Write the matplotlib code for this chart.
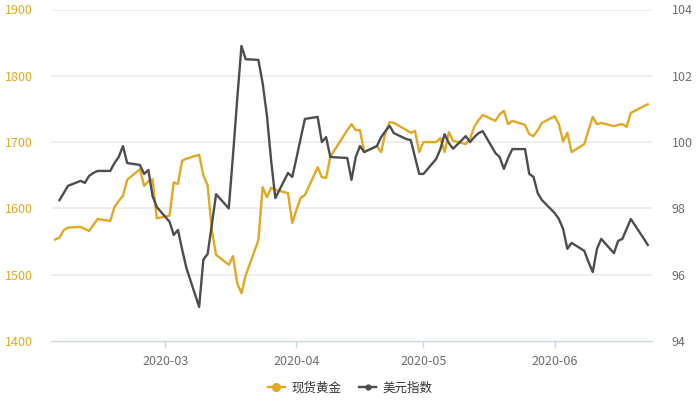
import matplotlib
matplotlib.use("Agg")
import matplotlib.pyplot as plt
import matplotlib.dates as mdates
from matplotlib.lines import Line2D
import pandas as pd

plt.rcParams['font.family'] = ['Noto Sans CJK SC', 'DejaVu Sans']

# ---- data ----
gold_dates = [
    "2020-02-04", "2020-02-05", "2020-02-06", "2020-02-07",
    "2020-02-10", "2020-02-11", "2020-02-12", "2020-02-13", "2020-02-14",
    "2020-02-17", "2020-02-18", "2020-02-19", "2020-02-20", "2020-02-21",
    "2020-02-24", "2020-02-25", "2020-02-26", "2020-02-27", "2020-02-28",
    "2020-03-02", "2020-03-03", "2020-03-04", "2020-03-05", "2020-03-06",
    "2020-03-09", "2020-03-10", "2020-03-11", "2020-03-12", "2020-03-13",
    "2020-03-16", "2020-03-17", "2020-03-18", "2020-03-19", "2020-03-20",
    "2020-03-23", "2020-03-24", "2020-03-25", "2020-03-26", "2020-03-27",
    "2020-03-30", "2020-03-31", "2020-04-01", "2020-04-02", "2020-04-03",
    "2020-04-06", "2020-04-07", "2020-04-08", "2020-04-09",
    "2020-04-13", "2020-04-14", "2020-04-15", "2020-04-16", "2020-04-17",
    "2020-04-20", "2020-04-21", "2020-04-22", "2020-04-23", "2020-04-24",
    "2020-04-27", "2020-04-28", "2020-04-29", "2020-04-30", "2020-05-01",
    "2020-05-04", "2020-05-05", "2020-05-06", "2020-05-07", "2020-05-08",
    "2020-05-11", "2020-05-12", "2020-05-13", "2020-05-14", "2020-05-15",
    "2020-05-18", "2020-05-19", "2020-05-20", "2020-05-21", "2020-05-22",
    "2020-05-25", "2020-05-26", "2020-05-27", "2020-05-28", "2020-05-29",
    "2020-06-01", "2020-06-02", "2020-06-03", "2020-06-04", "2020-06-05",
    "2020-06-08", "2020-06-09", "2020-06-10", "2020-06-11", "2020-06-12",
    "2020-06-15", "2020-06-16", "2020-06-17", "2020-06-18", "2020-06-19",
    "2020-06-22", "2020-06-23",
]
gold_values = [
    1553, 1556, 1567, 1571,
    1572, 1569, 1566, 1575, 1584,
    1581, 1602, 1611, 1619, 1643,
    1659, 1634, 1641, 1644, 1585,
    1589, 1639, 1637, 1672, 1675,
    1681, 1650, 1635, 1567, 1530,
    1515, 1528, 1487, 1472, 1499,
    1552, 1632, 1617, 1631, 1628,
    1623, 1578, 1598, 1616, 1620,
    1662, 1647, 1646, 1678,
    1718, 1727, 1718, 1718, 1685,
    1694, 1685, 1714, 1730, 1729,
    1718, 1714, 1717, 1685, 1700,
    1700, 1706, 1685, 1715, 1702,
    1697, 1705, 1723, 1733, 1741,
    1732, 1742, 1747, 1727, 1732,
    1726, 1712, 1709, 1718, 1729,
    1739, 1727, 1701, 1714, 1685,
    1697, 1718, 1738, 1727, 1729,
    1724, 1726, 1727, 1723, 1744,
    1754, 1757,
]

dxy_dates = [
    "2020-02-05", "2020-02-06", "2020-02-07",
    "2020-02-10", "2020-02-11", "2020-02-12", "2020-02-13", "2020-02-14",
    "2020-02-17", "2020-02-18", "2020-02-19", "2020-02-20", "2020-02-21",
    "2020-02-24", "2020-02-25", "2020-02-26", "2020-02-27", "2020-02-28",
    "2020-03-02", "2020-03-03", "2020-03-04", "2020-03-05", "2020-03-06",
    "2020-03-09", "2020-03-10", "2020-03-11", "2020-03-12", "2020-03-13",
    "2020-03-16", "2020-03-17", "2020-03-18", "2020-03-19", "2020-03-20",
    "2020-03-23", "2020-03-24", "2020-03-25", "2020-03-26", "2020-03-27",
    "2020-03-30", "2020-03-31", "2020-04-01", "2020-04-02", "2020-04-03",
    "2020-04-06", "2020-04-07", "2020-04-08", "2020-04-09",
    "2020-04-13", "2020-04-14", "2020-04-15", "2020-04-16", "2020-04-17",
    "2020-04-20", "2020-04-21", "2020-04-22", "2020-04-23", "2020-04-24",
    "2020-04-27", "2020-04-28", "2020-04-29", "2020-04-30", "2020-05-01",
    "2020-05-04", "2020-05-05", "2020-05-06", "2020-05-07", "2020-05-08",
    "2020-05-11", "2020-05-12", "2020-05-13", "2020-05-14", "2020-05-15",
    "2020-05-18", "2020-05-19", "2020-05-20", "2020-05-21", "2020-05-22",
    "2020-05-25", "2020-05-26", "2020-05-27", "2020-05-28", "2020-05-29",
    "2020-06-01", "2020-06-02", "2020-06-03", "2020-06-04", "2020-06-05",
    "2020-06-08", "2020-06-09", "2020-06-10", "2020-06-11", "2020-06-12",
    "2020-06-15", "2020-06-16", "2020-06-17", "2020-06-18", "2020-06-19",
    "2020-06-22", "2020-06-23",
]
dxy_values = [
    98.25, 98.46, 98.68,
    98.83, 98.77, 98.98, 99.07, 99.13,
    99.13, 99.37, 99.55, 99.88, 99.37,
    99.31, 99.04, 99.16, 98.37, 98.04,
    97.60, 97.20, 97.35, 96.75, 96.20,
    95.03, 96.46, 96.62, 97.50, 98.43,
    98.00, 99.60, 101.30, 102.90, 102.50,
    102.48, 101.78, 100.82, 99.46, 98.31,
    99.07, 98.95, 99.52, 100.12, 100.70,
    100.76, 100.00, 100.15, 99.55,
    99.52, 98.86, 99.55, 99.88, 99.70,
    99.88, 100.15, 100.33, 100.49, 100.27,
    100.09, 100.06, 99.55, 99.04, 99.04,
    99.49, 99.79, 100.24, 99.97, 99.80,
    100.18, 100.00, 100.15, 100.27, 100.33,
    99.67, 99.55, 99.19, 99.52, 99.79,
    99.79, 99.04, 98.95, 98.46, 98.25,
    97.86, 97.68, 97.38, 96.78, 96.96,
    96.72, 96.38, 96.08, 96.78, 97.08,
    96.65, 97.02, 97.08, 97.38, 97.68,
    97.10, 96.90,
]

series_names = ["现货黄金", "美元指数"]
gold_ticks = [1400, 1500, 1600, 1700, 1800, 1900]
dxy_ticks = [94, 96, 98, 100, 102, 104]
x_ticks = ["2020-03-01", "2020-04-01", "2020-05-01", "2020-06-01"]
x_range = ["2020-02-03", "2020-06-24"]

# ---- styling ----
GOLD = "#e0a824"
DARK = "#4d4d4d"
GRID = "#ebebeb"
AXIS = "#ccd6eb"
TICKTXT = "#6e6e6e"

fig = plt.figure(figsize=(7, 4), dpi=100)
ax = fig.add_axes([51 / 700, 59 / 400, 601 / 700, 331.5 / 400])
ax2 = ax.twinx()

gd = pd.to_datetime(gold_dates)
dd = pd.to_datetime(dxy_dates)

ax.plot(gd, gold_values, color=GOLD, lw=1.7, zorder=3, solid_joinstyle='round')
ax2.plot(dd, dxy_values, color=DARK, lw=1.7, zorder=3, solid_joinstyle='round')

ax.set_ylim(gold_ticks[0], gold_ticks[-1])
ax2.set_ylim(dxy_ticks[0], dxy_ticks[-1])
ax.set_yticks(gold_ticks)
ax2.set_yticks(dxy_ticks)
ax.set_xlim(pd.to_datetime(x_range[0]), pd.to_datetime(x_range[1]))
ax.set_xticks(pd.to_datetime(x_ticks))
ax.xaxis.set_major_formatter(mdates.DateFormatter("%Y-%m"))

for y in gold_ticks[1:]:
    ax.axhline(y, color=GRID, lw=1.2, zorder=0)
ax.set_axisbelow(True)

for a in (ax, ax2):
    for s in a.spines.values():
        s.set_visible(False)
ax.spines['bottom'].set_visible(True)
ax.spines['bottom'].set_color(AXIS)
ax.spines['bottom'].set_linewidth(1.0)

ax.tick_params(axis='y', length=0, pad=13, labelsize=9, labelcolor=GOLD)
ax2.tick_params(axis='y', length=0, pad=14, labelsize=9, labelcolor=TICKTXT)
ax.tick_params(axis='x', length=5, width=1, color=AXIS, pad=5, labelsize=9, labelcolor=TICKTXT)

handles = [
    Line2D([0], [0], color=GOLD, lw=1.7, marker='o', markersize=5.5),
    Line2D([0], [0], color=DARK, lw=1.7, marker='o', markersize=3.5),
]
fig.legend(handles, series_names, loc='center', bbox_to_anchor=(350 / 700, 1 - 388 / 400),
           ncol=2, frameon=False, fontsize=9, handlelength=1.4, handletextpad=0.5,
           columnspacing=1.4, labelcolor="#333333")

fig.savefig("out.png", dpi=100, facecolor="white")
